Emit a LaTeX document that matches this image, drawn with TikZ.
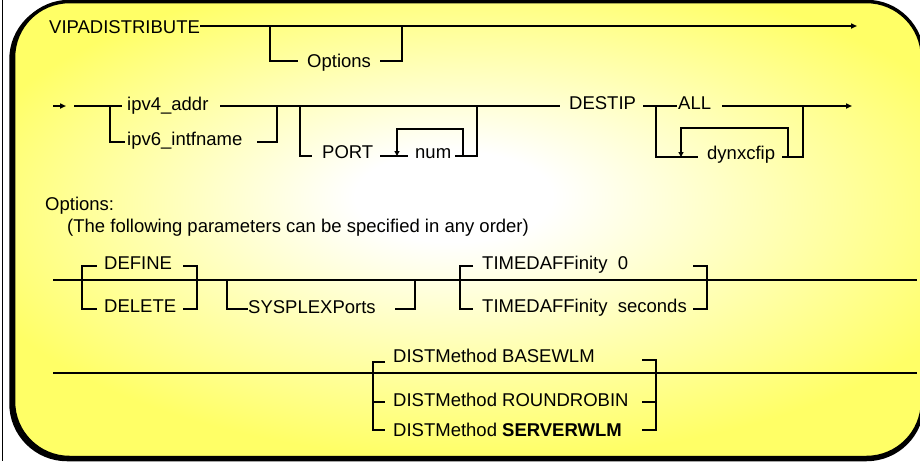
\documentclass[tikz,border=0pt]{standalone}
\usepackage{fontspec}
\setmainfont{Liberation Sans}
\usetikzlibrary{arrows.meta}
\definecolor{boxyellow}{RGB}{255,255,102}
\pgfdeclareradialshading{boxglow}{\pgfpoint{-3bp}{4bp}}{color(0bp)=(white); color(5bp)=(white); color(27bp)=(boxyellow); color(50bp)=(boxyellow)}
\begin{document}
\begin{tikzpicture}[x=1pt,y=-1pt,
  rail/.style={line width=2.2pt},
  brk/.style={line width=2.8pt, line join=miter},
  lbl/.style={anchor=base west, inner sep=0pt, font=\fontsize{18.5}{20}\selectfont},
  tip/.style={-{Triangle[length=6pt,width=5pt]}},
  looptip/.style={-{Triangle[length=5pt,width=5pt]}},
  panel/.style={line width=3.5pt, rounded corners=56pt}]
\useasboundingbox (0,0) rectangle (920,461);
\clip (0,0) rectangle (920,461);
% panel: shadow, glow fill, and the border (its right side runs off the page)
\draw[panel] (922.5,60) -- (922.5,3.5) -- (11,3.5) -- (11,459.5) -- (922.5,459.5) -- (922.5,403);
\begin{scope}
  \clip[rounded corners=56pt] (13.5,1.5) rectangle (922.5,457.5);
  \shade[shading=boxglow] (13.5,1.5) rectangle (1000,457.5);
\end{scope}
\draw[panel] (922.5,58) -- (922.5,1.5) -- (13.5,1.5) -- (13.5,457.5) -- (922.5,457.5) -- (922.5,401);
\draw[line width=1pt] (2.5,0) -- (2.5,461);

% labels
\node[lbl] (vipa) at (49,33) {VIPADISTRIBUTE};
\node[lbl] (opt1) at (307,67) {Options};
\node[lbl] (ipv4) at (127,110.5) {ipv4\_addr};
\node[lbl] (ipv6) at (127,145) {ipv6\_intfname};
\node[lbl] (port) at (322,158.5) {PORT};
\node[lbl] (num) at (415,158.5) {num};
\node[lbl] (destip) at (569,109.5) {DESTIP};
\node[lbl] (all) at (678,109.5) {ALL};
\node[lbl] (dyn) at (707,159) {dynxcfip};
\node[lbl] (opthead) at (45,210) {Options:};
\node[lbl] (note) at (67,232) {(The following parameters can be specified in any order)};
\node[lbl] (define) at (104,269) {DEFINE};
\node[lbl] (delete) at (104,312) {DELETE};
\node[lbl] (sysplex) at (248,313) {SYSPLEXPorts};
\node[lbl] (taff0) at (482,269) {TIMEDAFFinity\ \ 0};
\node[lbl] (taffs) at (482,312) {TIMEDAFFinity\ \ seconds};
\node[lbl] (dbase) at (393,362) {DISTMethod BASEWLM};
\node[lbl] (drr) at (393,406.5) {DISTMethod ROUNDROBIN};
\node[lbl] (dsrv) at (393,436) {DISTMethod \textbf{SERVERWLM}};

% row 1
\draw[rail,tip] (200,26) -- (857,26);
\draw[brk] (270,26) -- (270,61) -- (298,61);
\draw[brk] (380,61) -- (402,61) -- (402,26);

% row 2
\draw[rail,tip] (53,106) -- (66,106);
\draw[rail] (74,106) -- (122,106);
\draw[rail] (220,106) -- (560,106);
\draw[rail] (643,106) -- (677,106);
\draw[rail,tip] (722,106) -- (852,106);
\draw[brk] (110,106) -- (110,142) -- (125,142);
\draw[brk] (257,142) -- (277,142) -- (277,106);
\draw[brk] (300,106) -- (300,156) -- (312,156);
\draw[brk] (380,156) -- (408,156);
\draw[brk] (455,156) -- (477,156) -- (477,106);
\draw[brk,looptip] (463,156) -- (463,129) -- (397,129) -- (397,156);
\draw[brk] (656,106) -- (656,157) -- (698,157);
\draw[brk,looptip] (788,157) -- (788,128) -- (681,128) -- (681,157);
\draw[brk] (782,157) -- (803,157) -- (803,106);

% row 3
\draw[rail] (53,280) -- (917,280);
\draw[brk] (97,266) -- (82,266) -- (82,309) -- (97,309);
\draw[brk] (183,266) -- (197,266) -- (197,309) -- (183,309);
\draw[brk] (227,280) -- (227,309) -- (248,309);
\draw[brk] (395,309) -- (415,309) -- (415,280);
\draw[brk] (473,266) -- (460,266) -- (460,309) -- (473,309);
\draw[brk] (693,266) -- (707,266) -- (707,309) -- (693,309);

% row 4
\draw[rail] (53,373) -- (917,373);
\draw[brk] (385,362) -- (373,362) -- (373,430) -- (385,430);
\draw[brk] (373,402) -- (385,402);
\draw[brk] (642,360) -- (656,360) -- (656,430) -- (642,430);
\draw[brk] (642,402) -- (656,402);
\end{tikzpicture}
\end{document}
